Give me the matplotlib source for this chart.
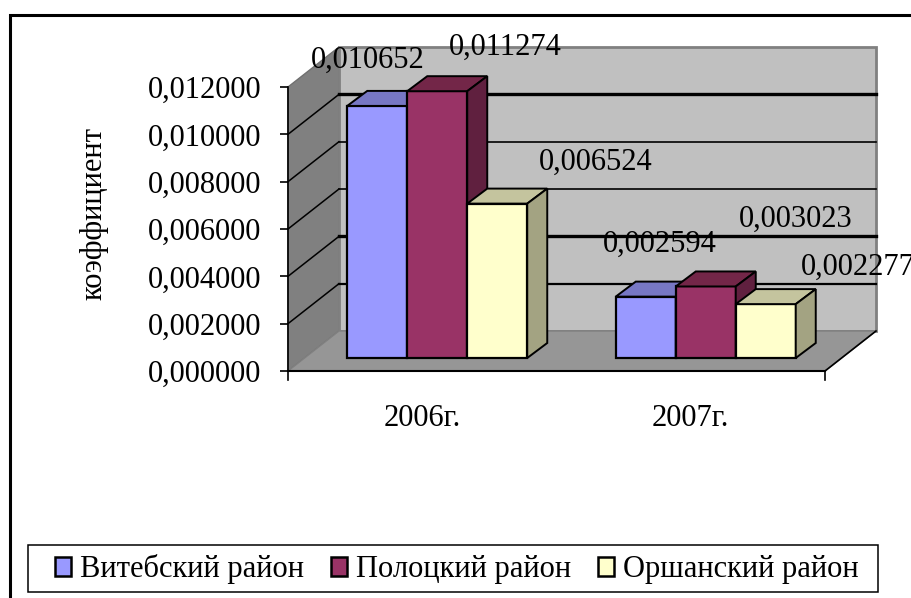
import matplotlib
matplotlib.use("Agg")
import matplotlib.pyplot as plt
from matplotlib.patches import Patch, Rectangle

plt.rcParams['font.family'] = ['Liberation Serif', 'DejaVu Serif']

years = ["2006г.", "2007г."]
districts = ["Витебский район", "Полоцкий район", "Оршанский район"]
vitebsk = [0.010652, 0.002594]
polotsk = [0.011274, 0.003023]
orsha = [0.006524, 0.002277]
y_ticks = [0.0, 0.002, 0.004, 0.006, 0.008, 0.010, 0.012]
y_title = "коэффициент"

W, H = 911, 598
FS = 22
fig = plt.figure(figsize=(W / 100, H / 100), dpi=100)
ax = fig.add_axes([288 / W, 1 - 371 / H, 537 / W, 284 / H])
ax.set_xlim(-0.5, 1.5)
ax.set_ylim(0, 0.012)
ax.patch.set_visible(False)
for s in ax.spines.values():
    s.set_visible(False)

# pixel to data units, the fake 3d depth is given in pixels
ux = 2 / 537
uy = 0.012 / 284
wall_dx, wall_dy = 51 * ux, 40 * uy
front_dx, front_dy = 15 * ux, 13 * uy
depth_dx, depth_dy = 20 * ux, 15 * uy
bar_w = 60 * ux

x0, x1 = ax.get_xlim()
top = y_ticks[-1]

# walls and floor
ax.fill([x0, x0 + wall_dx, x0 + wall_dx, x0], [0, wall_dy, top + wall_dy, top],
        fc="#808080", ec="#707070", lw=1, clip_on=False, zorder=1)
ax.fill([x0 + wall_dx, x1 + wall_dx, x1 + wall_dx, x0 + wall_dx], [wall_dy, wall_dy, top + wall_dy, top + wall_dy],
        fc="#C0C0C0", ec="#808080", lw=2, clip_on=False, zorder=1)
ax.fill([x0, x1, x1 + wall_dx, x0 + wall_dx], [0, 0, wall_dy, wall_dy],
        fc="#969696", ec="#808080", lw=1, clip_on=False, zorder=1)

# gridlines, going round the side wall and along the back
back_lw = [1.6, 2.4, 1.2, 1.2, 2.4]
for t, lw in zip(y_ticks[1:-1], back_lw):
    ax.plot([x0, x0 + wall_dx], [t, t + wall_dy], color="black", lw=1.1, clip_on=False, zorder=2)
    ax.plot([x0 + wall_dx, x1 + wall_dx], [t + wall_dy, t + wall_dy], color="black", lw=lw, clip_on=False, zorder=2)
ax.plot([x0, x0], [0, top], color="black", lw=1.2, clip_on=False, zorder=2)
ax.plot([x0, x1], [0, 0], color="black", lw=1.5, clip_on=False, zorder=2)
ax.plot([x1, x1 + wall_dx], [0, wall_dy], color="black", lw=1.2, clip_on=False, zorder=2)

series = [vitebsk, polotsk, orsha]
front_col = ["#9999FF", "#993366", "#FFFFCC"]
top_col = ["#7777C4", "#732648", "#C4C49E"]
side_col = ["#6A6AB0", "#60203F", "#A3A382"]
# hand placed data labels in the original, offset from the bar top in pixels
label_off = [[(-10, 46), (14, 52)], [(68, 44), (90, 67)], [(98, 41), (92, 37)]]

z = 3
for c in range(len(years)):
    for i, vals in enumerate(series):
        v = vals[c]
        left = c + front_dx + (i - 1.5) * bar_w
        right = left + bar_w
        b = front_dy
        ax.bar(left, v, bar_w, bottom=b, align="edge", color=front_col[i], ec="black", lw=1.6,
               clip_on=False, zorder=z)
        ax.fill([left, right, right + depth_dx, left + depth_dx],
                [b + v, b + v, b + v + depth_dy, b + v + depth_dy],
                fc=top_col[i], ec="black", lw=1.4, clip_on=False, zorder=z)
        ax.fill([right, right + depth_dx, right + depth_dx, right],
                [b, b + depth_dy, b + v + depth_dy, b + v],
                fc=side_col[i], ec="black", lw=1.4, clip_on=False, zorder=z)
        z += 1

for c in range(len(years)):
    for i, vals in enumerate(series):
        v = vals[c]
        ax.annotate(f"{v:.6f}".replace(".", ","),
                    xy=(c + front_dx + (i - 1) * bar_w, v + front_dy),
                    xytext=label_off[i][c], textcoords="offset pixels",
                    ha="center", va="center", fontsize=FS, annotation_clip=False, zorder=50)

ax.set_yticks(y_ticks)
ax.set_yticklabels([f"{t:.6f}".replace(".", ",") for t in y_ticks], fontsize=FS)
ax.tick_params(axis="y", length=6, width=1.2, pad=13)
ax.set_xticks([0, 1])
ax.set_xticklabels(years, fontsize=FS)
ax.tick_params(axis="x", length=0, pad=24)
for xt in (x0, x1):
    ax.plot([xt, xt], [0, -9 * uy], color="black", lw=1.2, clip_on=False, zorder=2)

fig.text(94 / W, 1 - 213 / H, y_title, rotation=90, ha="center", va="center", fontsize=FS)

# frame of the picture, right and bottom sides are cut off
fig.add_artist(Rectangle((10 / W, -0.1), 1.1, 1.1 - 15 / H, transform=fig.transFigure,
                         fc="none", ec="black", lw=2.2))

# legend box is wider than its content, so the frame is separate
fig.add_artist(Rectangle((28 / W, 1 - 592 / H), 850 / W, 47 / H, transform=fig.transFigure,
                         fc="white", ec="black", lw=1.1))
handles = [Patch(fc=col, ec="black", lw=1.8) for col in front_col]
fig.legend(handles, districts, ncol=3, loc="center", frameon=False,
           bbox_to_anchor=(457 / W, 1 - 569 / H), borderaxespad=0, borderpad=0, fontsize=FS,
           handlelength=0.5, handleheight=0.56, handletextpad=0.3, columnspacing=0.9)

fig.savefig("out.png", dpi=100)
